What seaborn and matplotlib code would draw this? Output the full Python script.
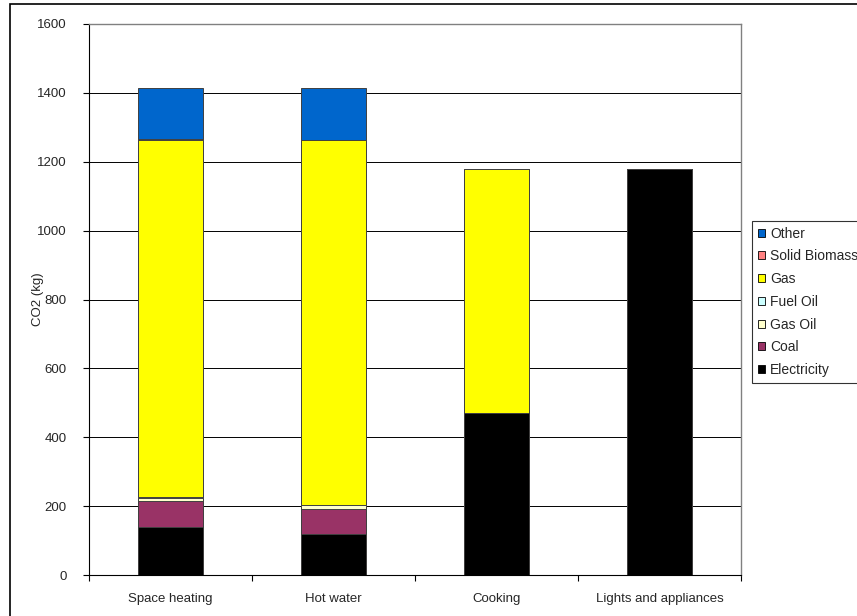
import numpy as np
import pandas as pd
import matplotlib
matplotlib.use("Agg")
import matplotlib.pyplot as plt
import matplotlib.patches as mpatches
import seaborn as sns

# Data (kg CO2 per end use)
categories = ["Space heating", "Hot water", "Cooking", "Lights and appliances"]
electricity = [140, 118, 470, 1178]
coal = [76, 75, 0, 0]
gas_oil = [8, 10, 0, 0]
fuel_oil = [2, 1, 0, 0]
gas = [1037, 1059, 708, 0]
solid_biomass = [4, 0, 0, 0]
other = [148, 152, 0, 0]

# stacking order bottom -> top
series_names = ["Electricity", "Coal", "Gas Oil", "Fuel Oil", "Gas", "Solid Biomass", "Other"]
series_values = [electricity, coal, gas_oil, fuel_oil, gas, solid_biomass, other]
colors = {
    "Electricity": "#000000",
    "Coal": "#993366",
    "Gas Oil": "#FFFFCC",
    "Fuel Oil": "#CCFFFF",
    "Gas": "#FFFF00",
    "Solid Biomass": "#FF8080",
    "Other": "#0066CC",
}

df = pd.DataFrame(dict(zip(series_names, series_values)), index=categories)
cum = df.cumsum(axis=1)

sns.set_theme(style="white")
plt.rcParams["font.family"] = ["Liberation Sans", "DejaVu Sans"]
fs = 9.5

fig = plt.figure(figsize=(8.57, 6.16), dpi=100)
ax = fig.add_axes([89 / 857, 1 - 575 / 616, 652 / 857, 551 / 616])

# draw cumulative totals from the top layer down so lower layers cover them
for name in series_names[::-1]:
    sns.barplot(x=categories, y=cum[name].values, order=categories, color=colors[name],
                saturation=1, width=0.4, edgecolor="#404040", linewidth=0.7, ax=ax)

ax.set_ylim(0, 1600)
ax.set_xlim(-0.5, 3.5)
ax.set_yticks(np.arange(0, 1601, 200))
ax.set_axisbelow(True)
ax.yaxis.grid(True, color="black", linewidth=0.7)
ax.xaxis.grid(False)

for side in ["left", "bottom"]:
    ax.spines[side].set_color("black")
    ax.spines[side].set_linewidth(0.8)
for side in ["top", "right"]:
    ax.spines[side].set_color("#808080")
    ax.spines[side].set_linewidth(1.0)

ax.tick_params(axis="y", direction="out", length=4, width=0.8, color="black",
               labelsize=fs, pad=12, left=True)
ax.tick_params(axis="x", which="major", length=0, labelsize=fs, pad=13)
ax.set_xticks(np.arange(-0.5, 3.6, 1.0), minor=True)
ax.tick_params(axis="x", which="minor", direction="out", length=4, width=0.8,
               color="black", bottom=True)
ax.set_ylabel("CO2 (kg)", fontsize=fs, labelpad=-5)
ax.set_xlabel("")

handles = [mpatches.Patch(facecolor=colors[n], edgecolor="black", linewidth=0.6, label=n)
           for n in series_names[::-1]]
leg = fig.legend(handles=handles, loc="upper left",
                 bbox_to_anchor=(752 / 857, 1 - 221 / 616), fontsize=10,
                 frameon=True, fancybox=False, handlelength=0.52, handleheight=0.52,
                 handletextpad=0.4, labelspacing=0.63, borderpad=0.4, borderaxespad=0)
leg.get_frame().set_edgecolor("black")
leg.get_frame().set_linewidth(0.8)

# outer chart border
fig.patches.append(mpatches.Rectangle((10 / 857, -0.1), 1.2, 1.1 - 4 / 616,
                                      transform=fig.transFigure, fill=False,
                                      edgecolor="black", linewidth=1.2))

fig.savefig("out.png", dpi=100)
